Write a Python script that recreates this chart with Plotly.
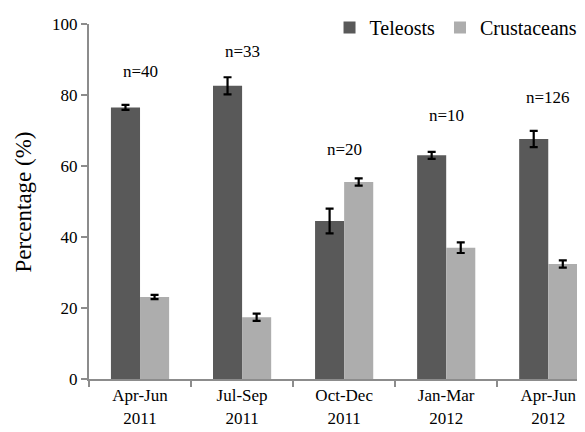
import plotly.graph_objects as go

categories = ["Apr-Jun<br>2011", "Jul-Sep<br>2011", "Oct-Dec<br>2011", "Jan-Mar<br>2012", "Apr-Jun<br>2012"]
teleosts = [76.5, 82.6, 44.5, 63.0, 67.6]
teleosts_err = [0.7, 2.4, 3.5, 1.0, 2.3]
crustaceans = [23.1, 17.4, 55.5, 37.0, 32.4]
crustaceans_err = [0.6, 1.0, 1.0, 1.5, 1.0]
n_labels = ["n=40", "n=33", "n=20", "n=10", "n=126"]
n_label_y = [86.5, 92.2, 64.6, 74.2, 79.2]
y_title = "Percentage (%)"

serif = "Liberation Serif, Times New Roman, serif"

fig = go.Figure()
fig.add_trace(go.Bar(
    name="Teleosts", x=categories, y=teleosts,
    marker=dict(color="#595959", line=dict(width=0)),
    error_y=dict(type="data", array=teleosts_err, color="black", thickness=2.2, width=4),
))
fig.add_trace(go.Bar(
    name="Crustaceans", x=categories, y=crustaceans,
    marker=dict(color="#adadad", line=dict(width=0)),
    error_y=dict(type="data", array=crustaceans_err, color="black", thickness=2.2, width=4),
))

for c, t, yv in zip(categories, n_labels, n_label_y):
    fig.add_annotation(x=c, y=yv, text=t, showarrow=False,
                       font=dict(family=serif, size=17, color="black"))

fig.add_annotation(xref="paper", yref="paper", x=-0.131, y=0.497, text=y_title,
                   textangle=-90, showarrow=False, xanchor="center", yanchor="middle",
                   font=dict(family=serif, size=23, color="black"))

fig.update_layout(
    width=577, height=424,
    margin=dict(l=81, r=0, t=15, b=53),
    paper_bgcolor="white", plot_bgcolor="white",
    barmode="group", bargap=0.43, bargroupgap=0,
    font=dict(family=serif, size=17, color="black"),
    showlegend=True,
    legend=dict(orientation="h", x=0.995, xanchor="right", y=0.99, yanchor="middle",
                font=dict(family=serif, size=20, color="black"),
                itemwidth=30, tracegroupgap=0, bgcolor="rgba(0,0,0,0)"),
)
fig.update_xaxes(
    range=[-0.5, 4.36], showline=True, linecolor="#8c8c8c", linewidth=2,
    ticks="outside", tickson="boundaries", ticklen=6, tickcolor="#8c8c8c", tickwidth=2,
    tickfont=dict(family=serif, size=17, color="black"), showgrid=False, automargin=False,
)
fig.update_yaxes(
    range=[0, 100], dtick=20, showline=True, linecolor="#8c8c8c", linewidth=2,
    ticks="outside", ticklen=6, tickcolor="#8c8c8c", tickwidth=2, showgrid=False, zeroline=False,
    tickfont=dict(family=serif, size=17, color="black"), automargin=False,
)

fig.write_html("out.html")
